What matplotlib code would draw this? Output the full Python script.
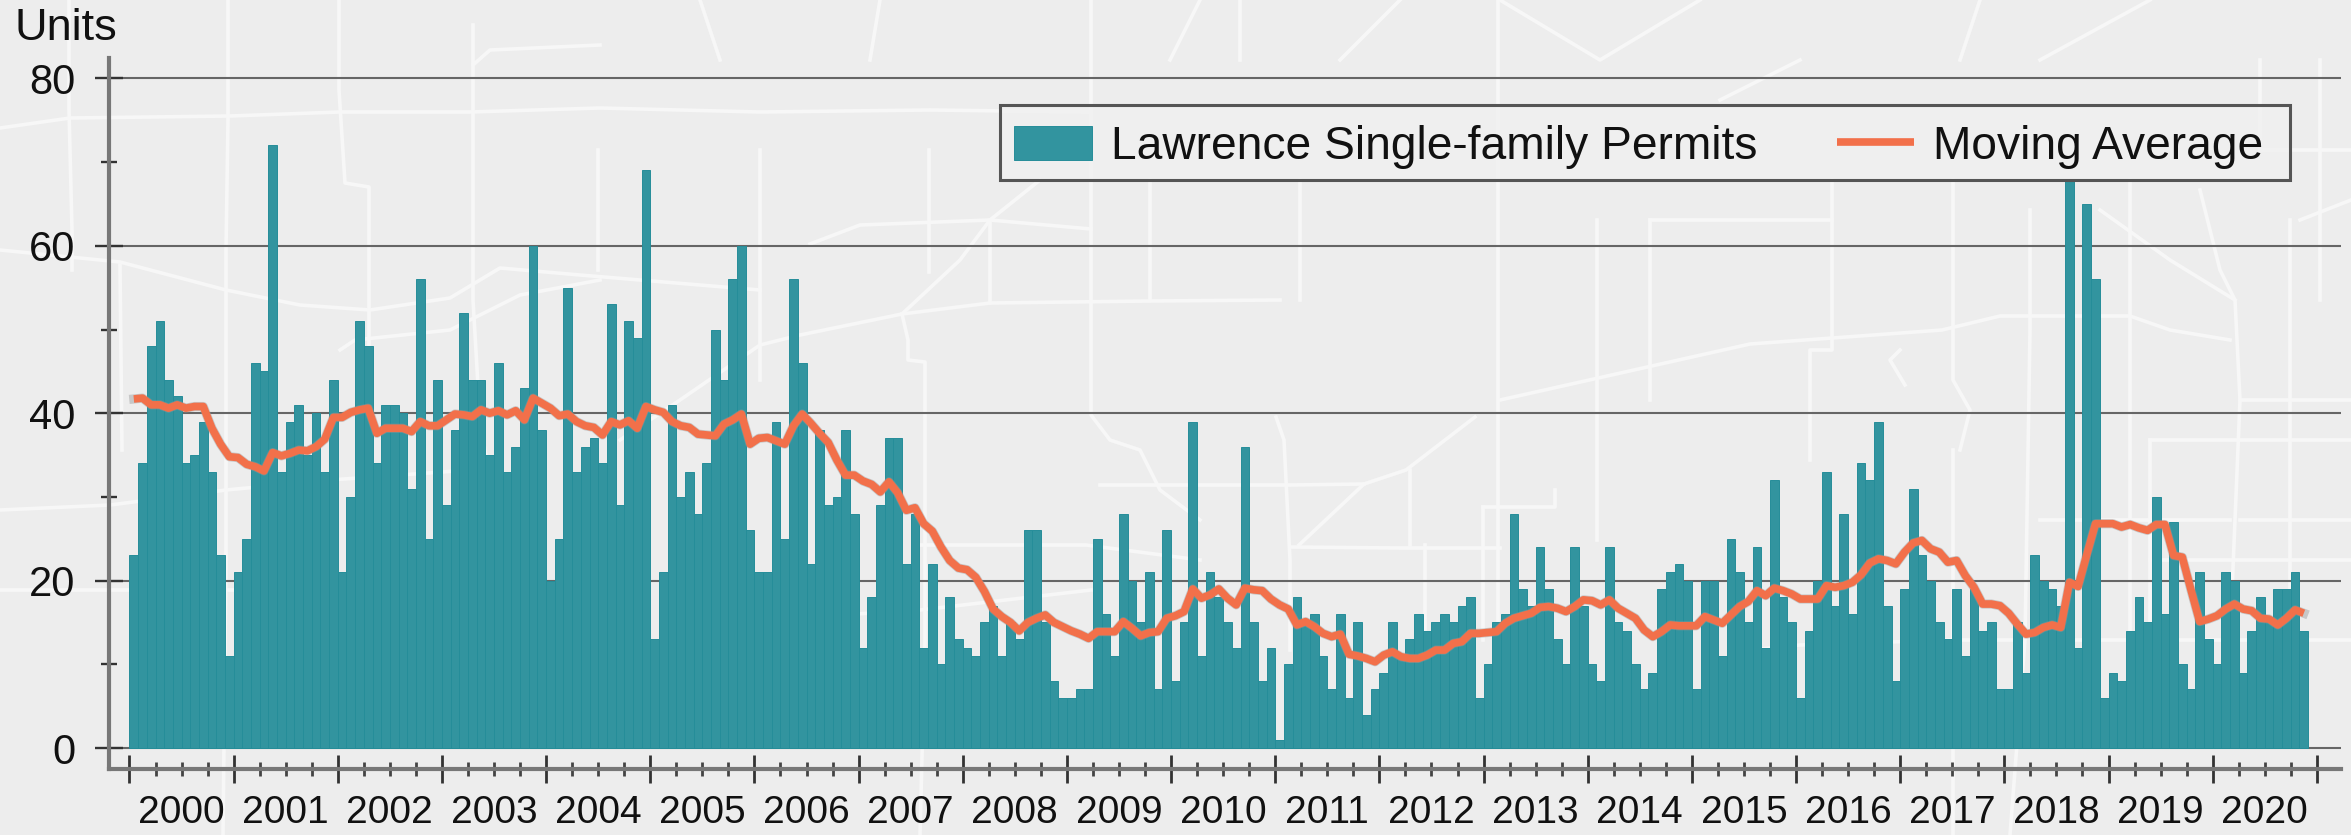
import matplotlib
matplotlib.use("Agg")
import matplotlib.pyplot as plt
import numpy as np
from matplotlib.patches import Rectangle
from matplotlib.ticker import FixedLocator, NullFormatter
from matplotlib.transforms import blended_transform_factory

plt.rcParams['font.family'] = ['Liberation Sans', 'DejaVu Sans']

YEARS = list(range(2000, 2021))
PERMITS = [
    23,34,48,51,44,42,34,35,39,33,23,11,
    21,25,46,45,72,33,39,41,35,40,33,44,
    21,30,51,48,34,41,41,40,31,56,25,44,
    29,38,52,44,44,35,46,33,36,43,60,38,
    20,25,55,33,36,37,34,53,29,51,49,69,
    13,21,41,30,33,28,34,50,44,56,60,26,
    21,21,39,25,56,46,22,38,29,30,38,28,
    12,18,29,37,37,22,28,12,22,10,18,13,
    12,11,15,17,11,15,13,26,26,15,8,6,
    6,7,7,25,16,11,28,20,15,21,7,26,
    8,15,39,11,21,18,15,12,36,15,8,12,
    1,10,18,15,16,11,7,16,6,15,4,7,
    9,15,11,13,16,14,15,16,15,17,18,6,
    10,15,16,28,19,17,24,19,13,10,24,17,
    10,8,24,15,14,10,7,9,19,21,22,20,
    7,20,20,11,25,21,15,24,12,32,18,15,
    6,14,20,33,17,28,16,34,32,39,17,8,
    19,31,23,20,15,13,19,11,19,14,15,7,
    7,15,9,23,20,19,17,68,12,65,56,6,
    9,8,14,18,15,30,16,27,10,7,21,13,
    10,21,20,9,14,18,15,19,19,21,14,
]
MOVING_AVG = [
    41.7,41.8,41.0,41.0,40.6,41.0,40.6,40.8,40.8,38.2,36.3,34.8,
    34.7,33.9,33.6,33.1,35.3,34.9,35.2,35.6,35.5,36.0,36.9,39.5,
    39.5,40.1,40.4,40.6,37.6,38.2,38.2,38.2,37.8,39.0,38.5,38.5,
    39.2,39.9,39.8,39.6,40.4,40.0,40.3,39.8,40.3,39.2,41.8,41.2,
    40.6,39.7,39.9,39.0,38.5,38.3,37.4,39.0,38.6,39.1,38.2,40.8,
    40.4,40.1,39.0,38.5,38.3,37.5,37.4,37.3,38.7,39.2,39.9,36.3,
    37.0,37.1,36.7,36.3,38.5,39.9,38.8,37.6,36.5,34.4,32.6,32.6,
    31.9,31.5,30.6,31.8,30.5,28.4,28.7,26.8,25.9,24.0,22.4,21.5,
    21.3,20.4,18.7,16.6,15.7,15.0,14.0,15.0,15.5,15.9,15.0,14.5,
    14.0,13.6,13.1,13.9,13.9,13.9,15.1,14.3,13.4,13.8,13.9,15.5,
    15.8,16.3,19.0,17.9,18.3,19.0,17.9,17.1,19.1,18.9,18.8,17.8,
    17.1,16.6,14.7,15.1,14.5,13.7,13.3,13.6,11.2,11.0,10.7,10.3,
    11.1,11.5,10.9,10.7,10.7,11.1,11.7,11.7,12.5,12.7,13.7,13.7,
    13.8,13.9,14.9,15.5,15.8,16.1,16.8,16.9,16.7,16.3,16.9,17.7,
    17.6,17.1,17.7,16.7,16.1,15.5,14.1,13.3,13.9,14.7,14.6,14.6,
    14.6,15.7,15.3,14.9,15.9,16.9,17.5,18.8,18.2,19.1,18.8,18.4,
    17.8,17.8,17.8,19.4,19.2,19.4,19.8,20.7,22.1,22.6,22.4,22.0,
    23.4,24.5,24.8,23.8,23.4,22.2,22.4,20.6,19.2,17.2,17.2,17.0,
    16.1,14.8,13.6,13.8,14.4,14.7,14.4,19.8,19.3,23.1,26.8,26.8,
    26.8,26.4,26.7,26.3,26.0,26.7,26.7,23.0,22.8,18.9,15.1,15.4,
    15.8,16.6,17.2,16.6,16.4,15.5,15.4,14.7,15.5,16.5,16.1,
]
BAR_LABEL = 'Lawrence Single-family Permits'
LINE_LABEL = 'Moving Average'
Y_MAJOR = [0, 20, 40, 60, 80]
Y_MINOR = [10, 30, 50, 70]

# decorative street-map backdrop, in image pixels
ROADS = [
    [(69,0),(69,110),(72,230),(72,270)],
    [(228,0),(228,120),(226,250),(226,560),(223,835)],
    [(0,128),(70,118),(230,116),(340,112),(470,112),(600,108),(760,112),(930,110),(1090,112)],
    [(0,250),(120,262),(226,290),(300,305),(370,310),(450,298),(500,268),(580,275),(760,290)],
    [(0,510),(110,505),(226,490),(330,480),(470,470)],
    [(0,590),(226,590),(340,590)],
    [(339,0),(339,90),(345,183),(369,187),(369,470),(372,620)],
    [(473,25),(473,65),(490,50),(600,45)],
    [(473,65),(473,300),(480,420),(490,480)],
    [(598,150),(598,270)],[(760,150),(760,380)],
    [(120,265),(122,450)],
    [(340,350),(355,340),(450,330),(520,295),(600,280)],
    [(1040,180),(990,220),(960,260),(902,314),(800,335),(760,345),(680,400),(620,440)],
    [(902,314),(908,340),(908,360),(925,362),(925,640),(920,835)],
    [(902,314),(990,303),(1150,301),(1280,300)],
    [(810,244),(860,225),(990,220),(1091,229)],
    [(990,220),(990,303)],[(929,150),(929,272)],
    [(1091,0),(1091,150),(1091,415),(1110,440),(1140,450),(1160,490),(1200,520)],
    [(921,545),(1086,545),(1200,560)],
    [(760,620),(920,610),(1091,590)],
    [(1276,417),(1284,440),(1290,560),(1290,650)],
    [(1475,417),(1406,470),(1364,484),(1299,545)],
    [(1100,485),(1290,485),(1364,484)],
    [(1290,547),(1400,548),(1500,548)],
    [(1410,470),(1410,545)],[(1498,0),(1498,417),(1498,620)],
    [(1597,220),(1597,540)],[(1425,545),(1425,640)],
    [(1483,507),(1555,507),(1555,490)],
    [(1483,507),(1483,640)],
    [(1832,180),(1832,350),(1810,350),(1810,460)],
    [(1500,400),(1750,344),(1942,330),(2000,316),(2130,316),(2170,330),(2230,340)],
    [(1953,180),(1953,340),(1953,380),(1970,410),(1960,450)],
    [(1750,650),(1800,645),(1950,640),(2020,640)],
    [(1900,350),(1890,360),(1905,385)],
    [(2030,210),(2030,330),(2025,640),(2010,835)],
    [(2130,180),(2130,640)],[(2200,190),(2220,270),(2235,300),(2240,400),(2230,640)],
    [(2100,210),(2170,260),(2235,300)],
    [(2150,440),(2351,440)],[(2260,150),(2351,150)],[(2260,60),(2260,150)],
    [(2300,220),(2351,200)],[(2320,60),(2320,300)],
    [(2040,520),(2230,520)],[(2150,440),(2150,640)],
    [(1500,0),(1600,60),(1700,0)],[(1200,0),(1170,60)],[(1800,60),(1720,100)],
    [(1980,0),(1960,60)],[(2040,60),(2150,0)],
    [(2240,400),(2351,400)],[(2240,520),(2351,520)],[(2290,220),(2290,640)],
    [(2150,560),(2351,560)],[(2070,640),(2351,640)],[(2070,330),(2070,640)],
    [(1953,450),(1953,835)],[(1240,0),(1240,60)],[(1340,60),(1400,0)],
    [(700,0),(720,60)],[(880,0),(870,60)],[(1650,220),(1650,400)],
    [(1650,220),(1832,220)],[(1300,180),(1300,300)],[(1150,180),(1150,300)],
]

W, H = 2351, 835
LEFT, RIGHT, TOP, BOTTOM = 109, 2341, 57.5, 769
MONTH_PX = 8.68
FIRST_CENTER_PX = 133.8
Y0_PX = 748
UNIT_PX = 8.37
TEAL, TEAL_EDGE = '#32949f', '#258d99'
ORANGE = '#f2704a'
INK = '#111111'

fig = plt.figure(figsize=(W/100, H/100), dpi=100, facecolor='#ededed')

bg = fig.add_axes([0, 0, 1, 1], zorder=-1)
bg.set_xlim(0, W); bg.set_ylim(H, 0); bg.axis('off')
for road in ROADS:
    xs, ys = zip(*road)
    bg.plot(xs, ys, color='#f7f7f7', lw=2.6, solid_joinstyle='round')

ax = fig.add_axes([LEFT/W, 1-BOTTOM/H, (RIGHT-LEFT)/W, (BOTTOM-TOP)/H])
ax.patch.set_alpha(0)
x = np.arange(len(PERMITS))
ax.set_xlim((LEFT-FIRST_CENTER_PX)/MONTH_PX, (RIGHT-FIRST_CENTER_PX)/MONTH_PX)
ax.set_ylim((Y0_PX-BOTTOM)/UNIT_PX, (Y0_PX-TOP)/UNIT_PX)

ax.yaxis.grid(True, which='major', color='#666666', lw=1.5, zorder=1)
ax.set_axisbelow(True)
bars = ax.bar(x, PERMITS, width=1.0, color=TEAL, edgecolor=TEAL_EDGE, lw=0.7, zorder=2, label=BAR_LABEL)
ax.plot(x, MOVING_AVG, color='#999999', lw=6.6, alpha=0.45, zorder=3)
line, = ax.plot(x, MOVING_AVG, color=ORANGE, lw=5.5, zorder=3.5, label=LINE_LABEL, solid_capstyle='butt')

for s in ('top', 'right'):
    ax.spines[s].set_visible(False)
for s in ('left', 'bottom'):
    ax.spines[s].set_color('#777777')
    ax.spines[s].set_linewidth(3)

yticks = np.array(range(0, 12*len(YEARS)+1, 12)) - 0.5
xminor = [t for t in np.arange(0, 12*len(YEARS), 3) - 0.5 if t not in yticks]
ax.xaxis.set_major_locator(FixedLocator(yticks))
ax.xaxis.set_minor_locator(FixedLocator(xminor))
ax.xaxis.set_major_formatter(NullFormatter())
ax.yaxis.set_major_locator(FixedLocator(Y_MAJOR))
ax.yaxis.set_minor_locator(FixedLocator(Y_MINOR))
ax.tick_params(axis='y', which='major', direction='inout', length=20, width=1.7, color='#333333',
               labelsize=30, labelcolor=INK, pad=14)
ax.tick_params(axis='y', which='minor', direction='inout', length=12, width=1.7, color='#333333')
ax.tick_params(axis='x', which='major', direction='inout', length=19.5, width=2, color='#333333')
ax.tick_params(axis='x', which='minor', direction='inout', length=10.5, width=2, color='#444444')

trans = blended_transform_factory(ax.transData, fig.transFigure)
for i, yr in enumerate(YEARS):
    ax.text(12*i + 5.5, 1-813/H, str(yr), transform=trans, ha='center', va='center',
            fontsize=28, color=INK, clip_on=False)

fig.text(14/W, 1-28/H, 'Units', fontsize=32.5, color=INK, ha='left', va='center')

box = Rectangle((1000/W, 1-180/H), 1290/W, 75/H, transform=fig.transFigure,
                facecolor=(0.94, 0.94, 0.94, 0.75), edgecolor='#555555', lw=2.2, zorder=5, clip_on=False)
ax.add_patch(box)
leg = ax.legend(handles=[bars, line], labels=[BAR_LABEL, LINE_LABEL],
                loc='center left', bbox_to_anchor=(1014/W, 1-147/H), bbox_transform=fig.transFigure,
                ncol=2, frameon=False, fontsize=33.2, handlelength=1.69, handleheight=0.78,
                handletextpad=0.41, columnspacing=1.72, borderpad=0, borderaxespad=0, labelcolor=INK)
leg.set_zorder(6)

fig.savefig('out.png', dpi=100, facecolor=fig.get_facecolor())
